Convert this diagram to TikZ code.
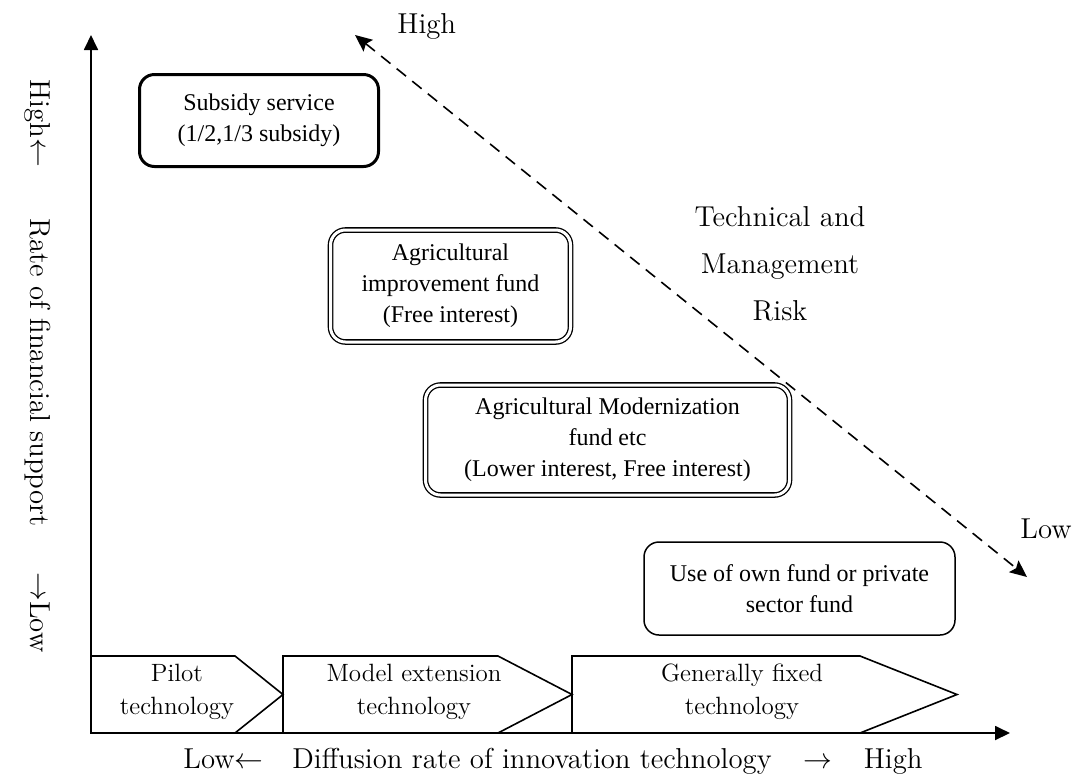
\documentclass[tikz,border=0pt]{standalone}
\usepackage{fontspec}
\usetikzlibrary{arrows.meta}
\newfontfamily\boxfont{Liberation Serif}
\newlength{\du}
\setlength{\du}{0.5pt}
\tikzset{
  axisline/.style={line width=1.8\du, -{Triangle[length=7.5pt,width=7pt]}},
  riskline/.style={line width=1.6\du, dash pattern=on 6pt off 4pt,
    {Stealth[length=8.5pt,width=7.5pt,inset=1.5pt]}-{Stealth[length=8.5pt,width=7.5pt,inset=1.5pt]}},
  stagebox/.style={line width=1.6\du},
  stagetext/.style={align=center, inner sep=0pt, font=\fontsize{12.5}{16.5}\selectfont},
  axislabel/.style={inner sep=0pt, font=\fontsize{14.4}{18}\selectfont},
  risklabel/.style={align=center, inner sep=0pt, font=\fontsize{14.4}{23.5}\selectfont},
  fundbox/.style={draw, rounded corners=7.5pt, align=center, inner sep=0pt,
    font={\boxfont\fontsize{12}{15.5}\selectfont}},
  subsidybox/.style={fundbox, line width=3\du},
  loanbox/.style={fundbox, double, double distance=3\du, line width=1.3\du},
  ownbox/.style={fundbox, line width=1.5\du}
}
\begin{document}
\begin{tikzpicture}
\pgftransformyscale{-1.000000}
\definecolor{dialinecolor}{rgb}{0.000000, 0.000000, 0.000000}
\useasboundingbox (0\du,0\du) rectangle (1081\du,783\du);
% axes
\coordinate (origin) at (91\du,733\du);
\coordinate (yend) at (91\du,35\du);
\coordinate (xend) at (1010\du,733\du);
\draw[axisline, dialinecolor] (origin) -- (yend);
\draw[axisline, dialinecolor] (origin) -- (xend);
\node[axislabel, rotate=-90] (ylabel) at (38\du,366\du)
  {High$\leftarrow$\hspace{1.8em}Rate of financial support\hspace{1.6em}$\rightarrow$Low};
\node[axislabel, anchor=base] (xlabel) at (553\du,768\du)
  {Low$\leftarrow$\hspace{1em}Diffusion rate of innovation technology\hspace{1.1em}$\rightarrow$\hspace{1.1em}High};
% stages of the technology
\draw[stagebox] (91\du,656\du)--(235\du,656\du)--(283\du,694.5\du)--(235\du,733\du)--(91\du,733\du)--cycle;
\draw[stagebox] (283\du,656\du)--(498\du,656\du)--(572\du,694.5\du)--(498\du,733\du)--(283\du,733\du)--cycle;
\draw[stagebox] (572\du,656\du)--(860\du,656\du)--(957\du,694.5\du)--(860\du,733\du)--(572\du,733\du)--cycle;
\node[stagetext] (pilot) at (177\du,692\du) {Pilot\\technology};
\node[stagetext] (model) at (414\du,692\du) {Model extension\\technology};
\node[stagetext] (fixed) at (742\du,692\du) {Generally fixed\\technology};
% kinds of fund
\node[subsidybox, minimum width=239\du, minimum height=92\du] (subsidy) at (259\du,120.5\du)
  {Subsidy service\\(1/2,1/3 subsidy)};
\node[loanbox, minimum width=240\du, minimum height=112\du] (improve) at (450.5\du,286\du)
  {Agricultural\\improvement fund\\(Free interest)};
\node[loanbox, minimum width=364\du, minimum height=110\du] (modern) at (607.5\du,440\du)
  {Agricultural Modernization\\fund etc\\(Lower interest, Free interest)};
\node[ownbox, minimum width=311\du, minimum height=93\du] (ownfund) at (799.5\du,588.5\du)
  {Use of own fund or private\\sector fund};
% risk
\coordinate (riskhigh) at (355\du,35\du);
\coordinate (risklow) at (1027\du,577\du);
\draw[riskline] (riskhigh) -- (risklow);
\node[axislabel, anchor=base west] (highrisk) at (397\du,33\du) {High};
\node[axislabel, anchor=base west] (lowrisk) at (1020\du,538\du) {Low};
\node[risklabel] (risk) at (780\du,264\du) {Technical and\\Management\\Risk};
\end{tikzpicture}
\end{document}
